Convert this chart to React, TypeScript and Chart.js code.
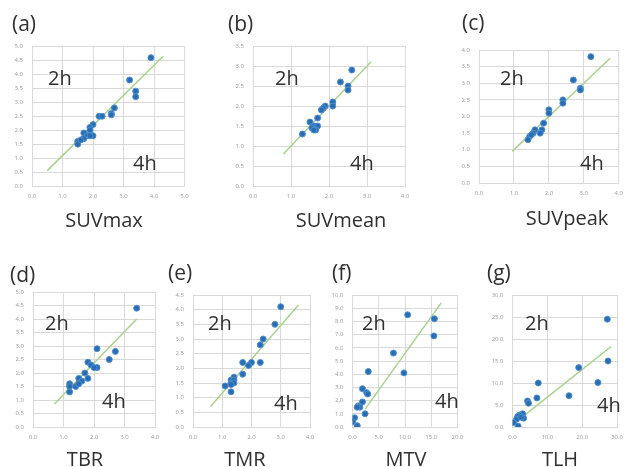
import { useEffect, useRef } from "react";
import { Chart, registerables } from "chart.js";

Chart.register(...registerables);

const FIG_W = 630;
const FIG_H = 467;
const Y_AXIS_W = 24;
const X_AXIS_H = 20;
const FONT = '"Open Sans", Lato, sans-serif';

// (a) SUVmax
const suvmaxX = [3.9, 3.2, 3.4, 3.4, 2.7, 2.6, 2.6, 2.2, 2.3, 2.0, 1.9, 1.9, 1.7, 1.8, 2.0, 1.9, 1.7, 1.5, 1.5, 1.6];
const suvmaxY = [4.6, 3.8, 3.4, 3.2, 2.8, 2.6, 2.55, 2.5, 2.5, 2.2, 2.1, 2.0, 1.9, 1.8, 1.8, 1.8, 1.7, 1.6, 1.5, 1.65];
const suvmaxFit = [[0.5, 0.55], [4.3, 4.65]];

// (b) SUVmean
const suvmeanX = [2.6, 2.3, 2.5, 2.5, 2.1, 2.1, 1.9, 1.85, 1.8, 1.7, 1.5, 1.6, 1.7, 1.55, 1.65, 1.6, 1.3];
const suvmeanY = [2.9, 2.6, 2.5, 2.4, 2.1, 2.0, 2.0, 1.95, 1.9, 1.7, 1.6, 1.5, 1.5, 1.45, 1.4, 1.4, 1.3];
const suvmeanFit = [[0.8, 0.8], [3.1, 3.1]];

// (c) SUVpeak
const suvpeakX = [3.2, 2.7, 2.9, 2.9, 2.4, 2.4, 2.0, 2.0, 1.85, 1.8, 1.75, 1.6, 1.55, 1.45, 1.4, 1.5];
const suvpeakY = [3.8, 3.1, 2.85, 2.8, 2.5, 2.4, 2.2, 2.1, 1.8, 1.6, 1.5, 1.6, 1.5, 1.4, 1.3, 1.45];
const suvpeakFit = [[0.95, 0.95], [3.75, 3.75]];

// (d) TBR
const tbrX = [3.4, 2.1, 2.7, 2.5, 1.8, 1.9, 2.1, 2.0, 1.7, 1.8, 1.5, 1.6, 1.2, 1.4, 1.2, 1.2, 1.5];
const tbrY = [4.4, 2.9, 2.8, 2.5, 2.4, 2.3, 2.2, 2.2, 2.0, 1.8, 1.8, 1.7, 1.6, 1.5, 1.5, 1.3, 1.6];
const tbrFit = [[0.7, 0.85], [3.4, 4.0]];

// (e) TMR
const tmrX = [3.0, 2.8, 2.4, 2.3, 2.3, 1.7, 2.0, 1.9, 1.7, 1.4, 1.3, 1.3, 1.4, 1.1, 1.3, 1.4, 1.3];
const tmrY = [4.1, 3.5, 3.0, 2.8, 2.2, 2.2, 2.2, 2.1, 1.8, 1.7, 1.6, 1.5, 1.6, 1.4, 1.2, 1.5, 1.45];
const tmrFit = [[0.6, 0.7], [3.6, 4.15]];

// (f) MTV
const mtvX = [10.5, 15.6, 15.5, 7.8, 9.8, 3.0, 1.9, 2.7, 2.9, 1.9, 1.1, 1.4, 0.9, 2.4, 0.4, 0.0, 0.9];
const mtvY = [8.5, 8.2, 6.9, 5.6, 4.1, 4.2, 2.9, 2.6, 2.5, 1.9, 1.6, 1.5, 1.5, 1.0, 0.7, 0.4, 0.1];
const mtvFit = [[2.4, 1.35], [16.9, 9.4]];

// (g) TLH
const tlhX = [27.2, 27.4, 19.0, 24.5, 7.4, 7.0, 16.2, 4.3, 4.6, 2.9, 3.2, 2.0, 1.5, 1.2, 0.3, 1.6, 2.5];
const tlhY = [24.5, 15.0, 13.5, 10.1, 10.0, 6.6, 7.1, 5.9, 5.4, 3.0, 2.0, 2.7, 2.4, 1.8, 1.0, 0.2, 2.2];
const tlhFit = [[0, 0.5], [28.3, 18.3]];

type Panel = {
  letter: string;
  title: string;
  xs: number[];
  ys: number[];
  fit: number[][];
  xMax: number;
  xStep: number;
  yMax: number;
  yStep: number;
  area: { l: number; r: number; t: number; b: number };
  letterAt: [number, number];
  titleAt: [number, number];
  h2At: [number, number];
  h4At: [number, number];
};

const panels: Panel[] = [
  {
    letter: "(a)", title: "SUVmax", xs: suvmaxX, ys: suvmaxY, fit: suvmaxFit,
    xMax: 5, xStep: 1, yMax: 5, yStep: 0.5,
    area: { l: 32, r: 184.5, t: 46.5, b: 186 },
    letterAt: [12, 31], titleAt: [104, 227], h2At: [48, 85], h4At: [133, 170],
  },
  {
    letter: "(b)", title: "SUVmean", xs: suvmeanX, ys: suvmeanY, fit: suvmeanFit,
    xMax: 4, xStep: 1, yMax: 3.5, yStep: 0.5,
    area: { l: 253, r: 405, t: 46, b: 186 },
    letterAt: [228, 31], titleAt: [341, 227], h2At: [275, 85], h4At: [350, 170],
  },
  {
    letter: "(c)", title: "SUVpeak", xs: suvpeakX, ys: suvpeakY, fit: suvpeakFit,
    xMax: 4, xStep: 1, yMax: 4, yStep: 0.5,
    area: { l: 479, r: 619, t: 50, b: 183 },
    letterAt: [462, 30], titleAt: [567, 225], h2At: [500, 85], h4At: [580, 170],
  },
  {
    letter: "(d)", title: "TBR", xs: tbrX, ys: tbrY, fit: tbrFit,
    xMax: 4, xStep: 1, yMax: 5, yStep: 0.5,
    area: { l: 33, r: 155, t: 292, b: 427 },
    letterAt: [10, 282], titleAt: [85, 466], h2At: [45, 330], h4At: [102, 408],
  },
  {
    letter: "(e)", title: "TMR", xs: tmrX, ys: tmrY, fit: tmrFit,
    xMax: 4, xStep: 1, yMax: 4.5, yStep: 0.5,
    area: { l: 193, r: 310, t: 295, b: 427 },
    letterAt: [168, 280], titleAt: [245, 466], h2At: [208, 330], h4At: [274, 410],
  },
  {
    letter: "(f)", title: "MTV", xs: mtvX, ys: mtvY, fit: mtvFit,
    xMax: 20, xStep: 5, yMax: 10, yStep: 1,
    area: { l: 352.5, r: 457.5, t: 295, b: 427 },
    letterAt: [332, 280], titleAt: [406, 466], h2At: [362, 330], h4At: [435, 408],
  },
  {
    letter: "(g)", title: "TLH", xs: tlhX, ys: tlhY, fit: tlhFit,
    xMax: 30, xStep: 10, yMax: 30, yStep: 5,
    area: { l: 512.5, r: 624, t: 295, b: 427 },
    letterAt: [487, 280], titleAt: [560, 466], h2At: [525, 330], h4At: [597, 412],
  },
];

function makeChart(canvas: HTMLCanvasElement, p: Panel) {
  const textPlugin = {
    id: "panelText",
    afterDraw(chart: any) {
      const ctx = chart.ctx as CanvasRenderingContext2D;
      ctx.save();
      ctx.fillStyle = "#303030";
      ctx.textBaseline = "alphabetic";
      ctx.font = `21px ${FONT}`;
      ctx.textAlign = "left";
      ctx.fillText(p.letter, p.letterAt[0], p.letterAt[1]);
      ctx.font = `20px ${FONT}`;
      ctx.fillText("2h", p.h2At[0], p.h2At[1]);
      ctx.fillText("4h", p.h4At[0], p.h4At[1]);
      ctx.textAlign = "center";
      ctx.font = `20px ${FONT}`;
      ctx.fillText(p.title, p.titleAt[0], p.titleAt[1]);
      ctx.restore();
    },
  };

  const tickFmt = (v: any) => Number(v).toFixed(1);

  return new Chart(canvas, {
    type: "scatter",
    data: {
      datasets: [
        {
          type: "line" as any,
          data: p.fit.map(([x, y]) => ({ x, y })),
          borderColor: "#a9d18e",
          borderWidth: 1.5,
          pointRadius: 0,
          showLine: true,
          fill: false,
          order: 1,
        } as any,
        {
          data: p.xs.map((x, i) => ({ x, y: p.ys[i] })),
          backgroundColor: "#2a6db3",
          borderColor: "#4f8fd0",
          borderWidth: 1,
          pointRadius: 3,
          order: 0,
        },
      ],
    },
    options: {
      responsive: false,
      animation: false,
      events: [],
      layout: {
        padding: {
          left: p.area.l - Y_AXIS_W,
          right: FIG_W - p.area.r,
          top: p.area.t,
          bottom: FIG_H - p.area.b - X_AXIS_H,
        },
      },
      plugins: {
        legend: { display: false },
        tooltip: { enabled: false },
        title: { display: false },
      },
      scales: {
        x: {
          type: "linear",
          min: 0,
          max: p.xMax,
          ticks: {
            stepSize: p.xStep,
            callback: tickFmt,
            font: { size: 6, family: FONT },
            color: "#9a9a9a",
            padding: 7,
            maxRotation: 0,
            autoSkip: false,
          },
          grid: { color: "#d9d9d9", lineWidth: 1, drawTicks: false },
          border: { color: "#d9d9d9" },
          afterFit: (s: any) => {
            s.height = X_AXIS_H;
          },
        },
        y: {
          type: "linear",
          min: 0,
          max: p.yMax,
          ticks: {
            stepSize: p.yStep,
            callback: tickFmt,
            font: { size: 6, family: FONT },
            color: "#9a9a9a",
            padding: 9,
            autoSkip: false,
          },
          grid: { color: "#d9d9d9", lineWidth: 1, drawTicks: false },
          border: { color: "#d9d9d9" },
          afterFit: (s: any) => {
            s.width = Y_AXIS_W;
          },
        },
      },
    },
    plugins: [textPlugin],
  });
}

function PanelCanvas({ panel }: { panel: Panel }) {
  const ref = useRef<HTMLCanvasElement | null>(null);
  useEffect(() => {
    if (!ref.current) return;
    const chart = makeChart(ref.current, panel);
    return () => chart.destroy();
  }, [panel]);
  return (
    <canvas
      ref={ref}
      width={FIG_W}
      height={FIG_H}
      style={{ position: "absolute", left: 0, top: 0, width: FIG_W, height: FIG_H }}
    />
  );
}

export default function App() {
  return (
    <div
      style={{
        position: "fixed",
        left: 0,
        top: 0,
        width: FIG_W,
        height: FIG_H,
        background: "#ffffff",
        overflow: "hidden",
      }}
    >
      {panels.map((p) => (
        <PanelCanvas key={p.letter} panel={p} />
      ))}
    </div>
  );
}
